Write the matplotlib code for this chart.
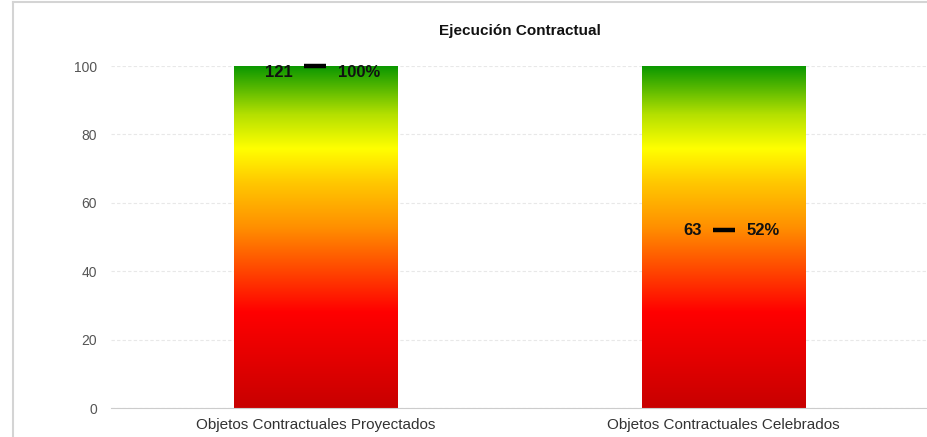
import matplotlib.pyplot as plt
import numpy as np
from matplotlib.colors import LinearSegmentedColormap
from matplotlib.lines import Line2D

categories = ["Objetos Contractuales Proyectados", "Objetos Contractuales Celebrados"]
counts = [121, 63]
percents = [100, 52]
scale_max = 100

plt.rcParams['font.family'] = ['Liberation Sans', 'DejaVu Sans']

# red -> yellow -> green, bottom to top
grad = LinearSegmentedColormap.from_list("semaforo", [
    (0.00, "#c80000"),
    (0.28, "#ff0000"),
    (0.53, "#ff9000"),
    (0.66, "#ffc800"),
    (0.76, "#ffff00"),
    (0.86, "#b4e000"),
    (1.00, "#0c9800"),
])

fig = plt.figure(figsize=(9.28, 4.37), dpi=100)
ax = fig.add_axes([111 / 928, 1 - 408 / 437, 1 - 111 / 928, (408 - 66) / 437])

bar_w = 0.40
x = np.arange(len(categories))
column = np.linspace(0, 1, 256).reshape(-1, 1)
for xi in x:
    ax.imshow(column, cmap=grad, origin="lower", aspect="auto",
              extent=(xi - bar_w / 2, xi + bar_w / 2, 0, scale_max),
              interpolation="bilinear", zorder=2)

# value markers and labels
for xi, n, p in zip(x, counts, percents):
    ax.plot([xi], [p], marker="_", markersize=16, mew=3.2, color="black",
            zorder=4, clip_on=False)
    ty = min(p, 98)
    ax.annotate(str(n), (xi, ty), xytext=(-22, 0), textcoords="offset pixels",
                ha="right", va="center", fontsize=12, fontweight="bold",
                color="#111111", zorder=5)
    ax.annotate(f"{p}%", (xi, ty), xytext=(23, 0), textcoords="offset pixels",
                ha="left", va="center", fontsize=12, fontweight="bold",
                color="#111111", zorder=5)

ax.set_xlim(-0.5, 1.5)
ax.set_ylim(0, scale_max)
ax.set_yticks(range(0, 101, 20))
ax.set_xticks(x)
ax.set_xticklabels(categories, fontsize=11, color="#333333")
ax.tick_params(axis="y", length=0, labelsize=10, labelcolor="#555555", pad=10)
ax.tick_params(axis="x", length=0, pad=7)
ax.grid(axis="y", color="#e8e8e8", linestyle=(0, (3, 2)), linewidth=0.8, zorder=0)
for s in ["top", "right", "left"]:
    ax.spines[s].set_visible(False)
ax.spines["bottom"].set_color("#cccccc")
ax.set_title("Ejecución Contractual", fontsize=11, fontweight="bold",
             color="#111111", pad=22)

# outer panel border
fig.add_artist(Line2D([13.5 / 928, 13.5 / 928], [0, 1 - 1.5 / 437],
                      transform=fig.transFigure, color="#d4d4d4", lw=1.5))
fig.add_artist(Line2D([13.5 / 928, 1], [1 - 1.5 / 437, 1 - 1.5 / 437],
                      transform=fig.transFigure, color="#d4d4d4", lw=1.5))

fig.savefig("out.png", dpi=100)
